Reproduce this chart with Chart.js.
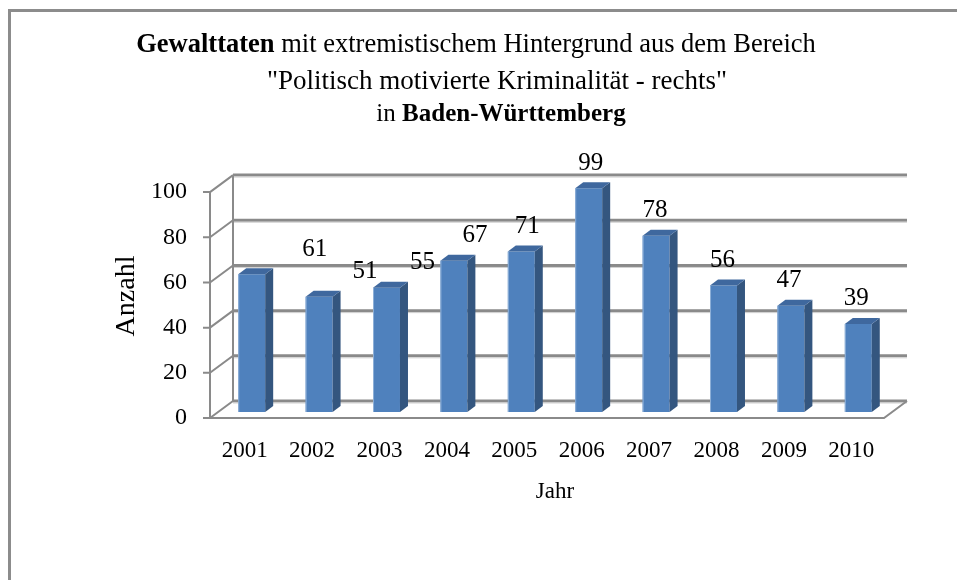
<!DOCTYPE html>
<html>
<head>
<meta charset="utf-8">
<script src="https://cdn.jsdelivr.net/npm/chart.js@4.4.0/dist/chart.umd.min.js"></script>
<style>
  html, body { margin: 0; padding: 0; background: #fff; }
</style>
</head>
<body>
<canvas id="chart" width="957" height="580"></canvas>
<script>
// -----------------------------
// Data
// -----------------------------
const years = ["2001", "2002", "2003", "2004", "2005", "2006", "2007", "2008", "2009", "2010"];
const counts = [61, 51, 55, 67, 71, 99, 78, 56, 47, 39];
const yTicks = [0, 20, 40, 60, 80, 100];

// label nudges as they sit in the original (px)
const labelShiftX = [63, 46, 36, 21, 6, 2, -1, -1, -2, -2];

const SERIF = "'Liberation Serif', 'Times New Roman', serif";
const GRID = "#8a8a8a";

// 3D look: bar plane sits 8px right / 6px up from the front plane,
// the back wall 23px right / 17px up
const FRONT_MAX = 108;
const LIFT = 6;

// -----------------------------
// Plugins
// -----------------------------
const walls = {
  id: "walls",
  beforeDatasetsDraw(chart) {
    const { ctx, chartArea } = chart;
    const y2 = chart.scales.y2;
    const fx = chartArea.left - 8;
    const bx = fx + 23;
    const rx = chartArea.right - 8;
    const f = v => y2.getPixelForValue(v);

    ctx.save();
    ctx.strokeStyle = GRID;
    ctx.lineCap = "butt";

    yTicks.forEach(v => {
      const yf = f(v), yb = yf - 17;
      ctx.lineWidth = 3;
      ctx.beginPath();
      ctx.moveTo(bx, yb);
      ctx.lineTo(rx + 23, yb);
      ctx.stroke();
      ctx.strokeStyle = "#d0d0d0";
      ctx.lineWidth = 1;
      ctx.beginPath();
      ctx.moveTo(bx, yb + 2);
      ctx.lineTo(rx + 23, yb + 2);
      ctx.stroke();
      ctx.strokeStyle = GRID;
      ctx.lineWidth = 2;
      ctx.beginPath();
      ctx.moveTo(fx, yf);
      ctx.lineTo(bx, yb);
      ctx.moveTo(fx - 7, yf);
      ctx.lineTo(fx, yf);
      ctx.stroke();
    });

    ctx.lineWidth = 2;
    ctx.beginPath();
    ctx.moveTo(fx, f(0));
    ctx.lineTo(fx, f(100));
    ctx.moveTo(bx, f(0) - 17);
    ctx.lineTo(bx, f(100) - 17);
    ctx.moveTo(fx, f(0));
    ctx.lineTo(rx, f(0));
    ctx.lineTo(rx + 23, f(0) - 17);
    ctx.stroke();
    ctx.restore();
  },
  afterDatasetsDraw(chart) {
    const { ctx } = chart;
    const bars = chart.getDatasetMeta(0).data;
    ctx.save();
    bars.forEach((bar, i) => {
      const { x, y, base, width } = bar.getProps(["x", "y", "base", "width"], true);
      const l = x - width / 2, r = x + width / 2;
      // side
      ctx.fillStyle = "#34567f";
      ctx.beginPath();
      ctx.moveTo(r, y);
      ctx.lineTo(r + 8, y - 6);
      ctx.lineTo(r + 8, base - 6);
      ctx.lineTo(r, base);
      ctx.closePath();
      ctx.fill();
      // top
      ctx.fillStyle = "#3f689e";
      ctx.beginPath();
      ctx.moveTo(l, y);
      ctx.lineTo(l + 8, y - 6);
      ctx.lineTo(r + 8, y - 6);
      ctx.lineTo(r, y);
      ctx.closePath();
      ctx.fill();
      // light left edge
      ctx.fillStyle = "#8fb0d8";
      ctx.fillRect(l, y, 1, base - y);

      ctx.fillStyle = "#000";
      ctx.font = "25px " + SERIF;
      ctx.textAlign = "center";
      ctx.textBaseline = "middle";
      ctx.fillText(String(counts[i]), x + labelShiftX[i], y - 25);
    });
    ctx.restore();
  }
};

const heading = {
  id: "heading",
  afterDraw(chart) {
    const { ctx } = chart;
    ctx.save();
    // outer frame (runs off the right and bottom edge)
    ctx.strokeStyle = "#8c8c8c";
    ctx.lineWidth = 3;
    ctx.strokeRect(9.5, 10.5, 1000, 1000);

    ctx.fillStyle = "#000";
    ctx.textBaseline = "alphabetic";
    ctx.textAlign = "left";
    const mixed = (parts, size, cx, baseY) => {
      let total = 0;
      parts.forEach(p => {
        ctx.font = (p.bold ? "bold " : "") + size + "px " + SERIF;
        p.w = ctx.measureText(p.text).width;
        total += p.w;
      });
      let x = cx - total / 2;
      parts.forEach(p => {
        ctx.font = (p.bold ? "bold " : "") + size + "px " + SERIF;
        ctx.fillText(p.text, x, baseY);
        x += p.w;
      });
    };
    mixed([{ text: "Gewalttaten", bold: true }, { text: " mit extremistischem Hintergrund aus dem Bereich" }], 26.5, 476, 52);
    mixed([{ text: "\"Politisch motivierte Kriminalität - rechts\"" }], 27, 497, 89);
    mixed([{ text: "in " }, { text: "Baden-Württemberg", bold: true }], 25, 501, 121);
    ctx.restore();
  }
};

// -----------------------------
// Chart
// -----------------------------
const ctx = document.getElementById("chart").getContext("2d");
const pxPerUnit = 244 / FRONT_MAX;

new Chart(ctx, {
  type: "bar",
  data: {
    labels: years,
    datasets: [{
      label: "Anzahl",
      data: counts,
      backgroundColor: "#4f81bd",
      borderWidth: 0,
      categoryPercentage: 1,
      barPercentage: 0.4,
      yAxisID: "y"
    }]
  },
  options: {
    responsive: false,
    animation: false,
    layout: { padding: { top: 174, right: 65, bottom: 0, left: 0 } },
    plugins: {
      legend: { display: false },
      tooltip: { enabled: false },
      title: { display: false }
    },
    scales: {
      x: {
        grid: { display: false, drawTicks: false },
        border: { display: false },
        ticks: { color: "#000", font: { family: SERIF, size: 23 }, padding: 19, maxRotation: 0, labelOffset: -7 },
        title: { display: true, text: "Jahr", color: "#000", font: { family: SERIF, size: 23 }, padding: { top: 0, bottom: 74 } },
        afterFit: s => { s.height = 162; }
      },
      y: {
        display: false,
        min: -LIFT / pxPerUnit,
        max: FRONT_MAX - LIFT / pxPerUnit
      },
      y2: {
        position: "left",
        min: 0,
        max: FRONT_MAX,
        afterBuildTicks: s => { s.ticks = yTicks.map(v => ({ value: v })); },
        grid: { display: false, drawTicks: false },
        border: { display: false },
        ticks: { color: "#000", font: { family: SERIF, size: 24 }, padding: 31 },
        title: { display: true, text: "Anzahl", color: "#000", font: { family: SERIF, size: 28 }, padding: { top: 110, bottom: 0 } },
        afterFit: s => { s.width = 218; }
      }
    }
  },
  plugins: [walls, heading]
});
</script>
</body>
</html>
